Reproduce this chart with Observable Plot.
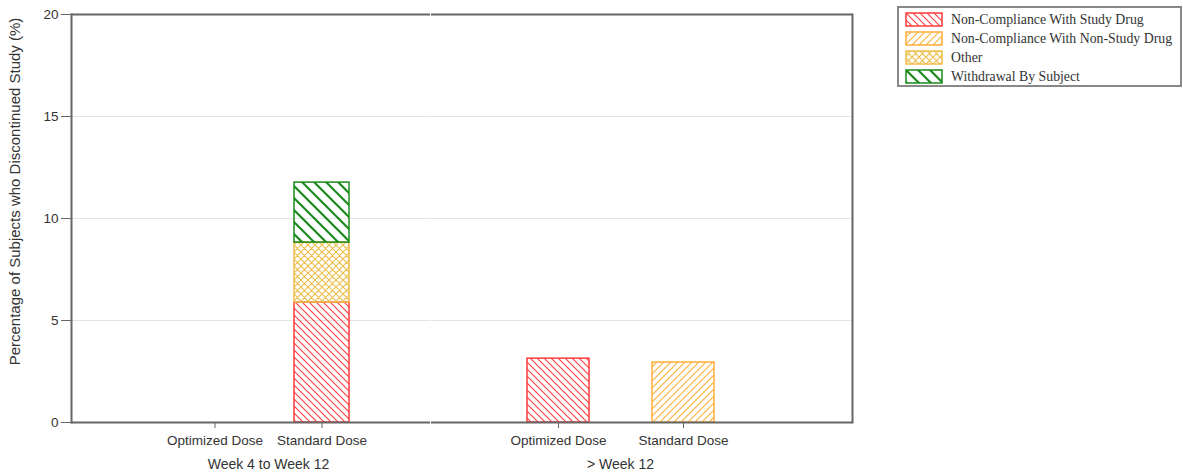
<!DOCTYPE html>
<html><head><meta charset="utf-8">
<script src="https://cdn.jsdelivr.net/npm/d3@7"></script>
<script src="https://cdn.jsdelivr.net/npm/@observablehq/plot@0.6"></script>
<style>
body{margin:0;background:#fff;}
#wrap{position:relative;width:1183px;height:476px;}
#p1,#p2{position:absolute;top:0;}
#p1{left:0}
#p2{left:431px}
#legend{position:absolute;left:897px;top:6px;width:285px;height:81px;border:2px solid #888;box-sizing:border-box;font-family:"Liberation Serif","Times New Roman",serif;font-size:13.8px;color:#333;padding:2px 0 0 6px;white-space:nowrap}
.row{display:flex;align-items:center;height:19px}
.sw{width:38px;height:15px;margin-right:8px;display:block;flex:none}
</style>
</head><body>
<svg width="0" height="0" style="position:absolute">
  <defs>
    <pattern id="pat0" patternUnits="userSpaceOnUse" width="7" height="7">
      <path d="M-1,-1 L8,8 M-1,6 L1,8 M6,-1 L8,1" stroke="#ff3b3b" stroke-width="1.1" fill="none"/>
    </pattern>
    <pattern id="pat1" patternUnits="userSpaceOnUse" width="7" height="7">
      <path d="M-1,8 L8,-1 M-1,1 L1,-1 M6,8 L8,6" stroke="#ffae3a" stroke-width="1.1" fill="none"/>
    </pattern>
    <pattern id="pat2" patternUnits="userSpaceOnUse" width="7" height="7">
      <path d="M-1,-1 L8,8 M-1,6 L1,8 M6,-1 L8,1 M-1,8 L8,-1 M-1,1 L1,-1 M6,8 L8,6" stroke="#eebd4a" stroke-width="1.1" fill="none"/>
    </pattern>
    <pattern id="pat3" patternUnits="userSpaceOnUse" width="12" height="12">
      <path d="M-2,-2 L14,14 M-2,10 L2,14 M10,-2 L14,2" stroke="#1a8a1a" stroke-width="2.2" fill="none"/>
    </pattern>
  </defs>
</svg>
<div id="wrap">
  <div id="p1"></div>
  <div id="p2"></div>
  <div id="legend"></div>
</div>
<script>
// ---- data ----
const reasons = ["Non-Compliance With Study Drug", "Non-Compliance With Non-Study Drug", "Other", "Withdrawal By Subject"];
const reasonStroke = ["#ff3b3b", "#ffae3a", "#eebd4a", "#1a8a1a"];
const reasonPattern = ["url(#pat0)", "url(#pat1)", "url(#pat2)", "url(#pat3)"];
const periods = ["Week 4 to Week 12", "> Week 12"];
const doses = ["Optimized Dose", "Standard Dose"];
const yTicks = [0, 5, 10, 15, 20];
const yLabel = "Percentage of Subjects who Discontinued Study (%)";

const barPeriod = ["Week 4 to Week 12", "Week 4 to Week 12", "Week 4 to Week 12", "> Week 12", "> Week 12"];
const barDose   = ["Standard Dose", "Standard Dose", "Standard Dose", "Optimized Dose", "Standard Dose"];
const barReason = ["Non-Compliance With Study Drug", "Other", "Withdrawal By Subject", "Non-Compliance With Study Drug", "Non-Compliance With Non-Study Drug"];
const barValue  = [5.88, 2.94, 2.94, 3.13, 2.94];

const data = barValue.map((v, i) => ({period: barPeriod[i], dose: barDose[i], reason: barReason[i], value: v}));
const strokeOf = Object.fromEntries(reasons.map((r, i) => [r, reasonStroke[i]]));
const fillOf = Object.fromEntries(reasons.map((r, i) => [r, reasonPattern[i]]));

const AX = "#666";
function panel(period, o) {
  const rows = data.filter(d => d.period === period);
  return Plot.plot({
    width: o.width, height: 476,
    marginLeft: o.ml, marginRight: o.mr, marginTop: 14, marginBottom: 54,
    style: {fontFamily: "'Liberation Sans', Arial, sans-serif", fontSize: "13.5px", color: "#333", background: "transparent", overflow: "visible"},
    x: {type: "band", domain: doses, range: o.range, paddingInner: o.pi, paddingOuter: 0, align: 0.5},
    y: {domain: [0, 20], axis: o.left ? undefined : null},
    color: {type: "identity"},
    marks: [
      Plot.gridY([5, 10, 15], {stroke: "#e4e4e4", strokeOpacity: 1}),
      Plot.barY(rows, {x: "dose", y: "value", fill: d => fillOf[d.reason], stroke: d => strokeOf[d.reason], strokeWidth: 1.5}),
      Plot.axisX({tickSize: 6, tickPadding: 7, label: null, stroke: AX, fontSize: 13.5}),
      o.left ? Plot.axisY({ticks: yTicks, tickSize: 10, tickPadding: 3, label: null, stroke: AX, fontSize: 13.5}) : null,
      o.left ? Plot.text([yLabel], {text: d => d, frameAnchor: "left", textAnchor: "middle", rotate: -90, dx: -56, dy: -27, fontSize: 15, fill: "#333"}) : null,
      Plot.text([period], {text: d => d, frameAnchor: "bottom", dy: 46, dx: o.gdx, fontSize: 14, fill: "#333"}),
      Plot.ruleY([0, 20], {stroke: AX, strokeWidth: 2}),
      Plot.frame({anchor: o.left ? "left" : "right", stroke: AX, strokeWidth: 2})
    ]
  });
}

document.getElementById("p1").append(panel(periods[0], {width: 430, ml: 71, mr: 0, range: [186.5, 349.5], pi: 0.49, left: true, gdx: 17.5}));
document.getElementById("p2").append(panel(periods[1], {width: 422, ml: 0, mr: 1, range: [95.3, 282.7], pi: 0.506, left: false, gdx: -21.5}));

// legend
const lg = document.getElementById("legend");
reasons.forEach((r, i) => {
  const row = document.createElement("div");
  row.className = "row";
  row.innerHTML = `<svg class="sw" width="38" height="15"><rect x="1" y="1" width="36" height="13" fill="${reasonPattern[i]}" stroke="${reasonStroke[i]}" stroke-width="1.5"/></svg><span>${r}</span>`;
  lg.append(row);
});
</script>
</body></html>
